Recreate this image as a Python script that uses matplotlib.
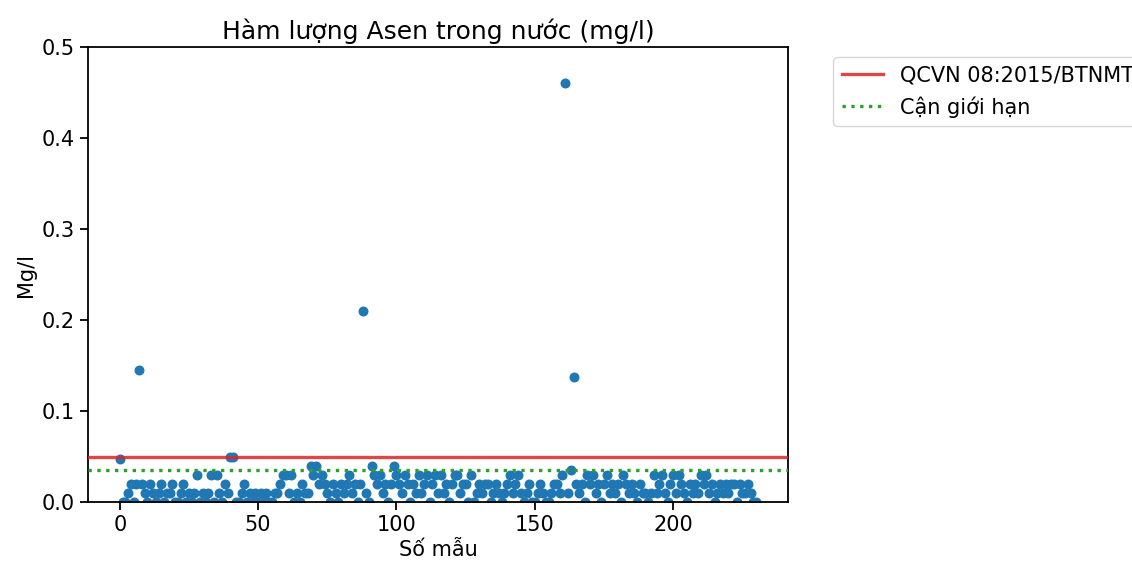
import numpy as np
import matplotlib
matplotlib.use("Agg")
import matplotlib.pyplot as plt

# Arsenic content per sample (mg/l)
asen = [
    0.047, 0, 0, 0.01, 0.02, 0, 0.02, 0.145, 0.02, 0.01,
    0, 0.02, 0.01, 0, 0.01, 0.02, 0, 0.01, 0.01, 0.02,
    0, 0, 0.01, 0.02, 0, 0.01, 0, 0.01, 0.03, 0,
    0.01, 0, 0.01, 0.03, 0, 0.03, 0.01, 0, 0.02, 0.01,
    0.05, 0.05, 0, 0, 0.01, 0.02, 0, 0.01, 0, 0.01,
    0, 0.01, 0, 0.01, 0, 0, 0.01, 0.01, 0.02, 0.03,
    0.03, 0.01, 0.03, 0, 0.01, 0, 0.02, 0.01, 0.01, 0.04,
    0.03, 0.04, 0.02, 0.03, 0.02, 0.01, 0, 0.02, 0.01, 0,
    0.02, 0.01, 0.02, 0.03, 0.01, 0.02, 0, 0.02, 0.21, 0.01,
    0, 0.04, 0.03, 0.02, 0.03, 0.01, 0.02, 0, 0.02, 0.04,
    0.03, 0.02, 0.01, 0.03, 0.02, 0, 0.02, 0.01, 0.03, 0.01,
    0.02, 0.03, 0, 0.02, 0.03, 0.01, 0.03, 0.01, 0.02, 0,
    0.02, 0.03, 0.03, 0.01, 0.02, 0.02, 0, 0.03, 0, 0.01,
    0.02, 0.01, 0.02, 0.02, 0, 0.01, 0.02, 0.01, 0, 0.01,
    0.02, 0.03, 0.01, 0.02, 0.03, 0.01, 0, 0.01, 0.02, 0,
    0, 0.01, 0.02, 0.01, 0, 0, 0.01, 0.02, 0.02, 0.01,
    0.03, 0.46, 0.01, 0.035, 0.137, 0.02, 0.01, 0.02, 0, 0.03,
    0.02, 0.03, 0.01, 0.02, 0, 0.02, 0.03, 0.01, 0.02, 0.01,
    0.02, 0, 0.03, 0.02, 0.01, 0.02, 0.01, 0, 0.02, 0.01,
    0.01, 0, 0.01, 0.03, 0.01, 0.02, 0.03, 0.01, 0, 0.02,
    0.03, 0.01, 0.03, 0.02, 0.01, 0, 0.02, 0.01, 0.02, 0.01,
    0.03, 0.02, 0.03, 0.01, 0.02, 0, 0.01, 0.02, 0.01, 0.02,
    0.01, 0.02, 0.02, 0, 0.02, 0.01, 0.01, 0.02, 0.01, 0,
    0,
]
qcvn = 0.05        # QCVN 08:2015/BTNMT limit
can_gioi_han = 0.035

plt.rcParams['font.size'] = 15
plt.rcParams['axes.linewidth'] = 1.3

fig = plt.figure(figsize=(11.32, 5.66), dpi=100)
ax = fig.add_axes([0.0777, 0.113, 0.6184, 0.804])

x = np.arange(len(asen))
ax.scatter(x, asen, s=38, color='#1f77b4', zorder=2)
ax.axhline(qcvn, color='#d62728', lw=2.4, alpha=0.85, label='QCVN 08:2015/BTNMT', zorder=3)
ax.axhline(can_gioi_han, color='#2ca02c', lw=2.4, ls=':', label='Cận giới hạn', zorder=3)

ax.set_ylim(0, 0.5)
ax.set_xlim(-11.5, 241.5)
ax.set_title('Hàm lượng Asen trong nước (mg/l)')
ax.set_xlabel('Số mẫu')
ax.set_ylabel('Mg/l')
ax.tick_params(width=1.3, length=5.7)
ax.legend(bbox_to_anchor=(1.05, 1), loc='upper left')

fig.savefig('out.png', dpi=100)
